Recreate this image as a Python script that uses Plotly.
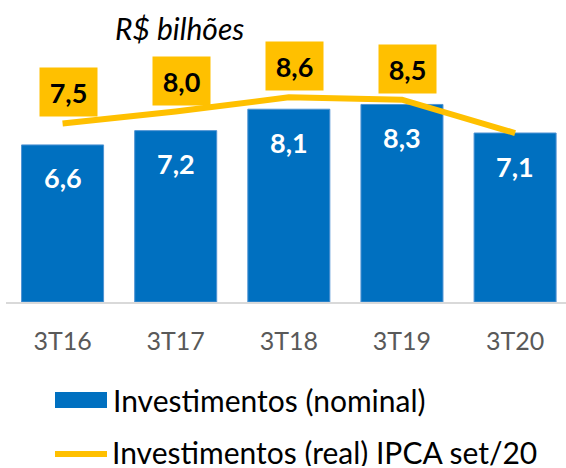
import plotly.graph_objects as go

categories = ["3T16", "3T17", "3T18", "3T19", "3T20"]
nominal = [6.6, 7.2, 8.1, 8.3, 7.1]
real = [7.5, 8.0, 8.6, 8.5, 7.1]
real_labels = ["7,5", "8,0", "8,6", "8,5", ""]
nominal_labels = ["6,6", "7,2", "8,1", "8,3", "7,1"]
unit_label = "R$ bilhões"
legend_names = ["Investimentos (nominal)", "Investimentos (real) IPCA set/20"]

BLUE = "#0070C0"
GOLD = "#FFC000"
FONT = "Lato"

W, H = 566, 468
ML, MR, MT, MB = 6, 0, 14, 166
PW, PH = W - ML - MR, H - MT - MB

def px(x):
    return (x - ML) / PW

def py(y):
    return (H - MB - y) / PH

fig = go.Figure()
fig.add_trace(go.Bar(
    x=categories, y=nominal, width=0.725,
    marker=dict(color=BLUE, line=dict(color="#4F93D3", width=1)),
    showlegend=False, hoverinfo="skip",
))
fig.add_trace(go.Scatter(
    x=categories, y=real, mode="lines",
    line=dict(color=GOLD, width=6),
    showlegend=False, hoverinfo="skip",
))

ann = []
for c, v, t in zip(categories, nominal, nominal_labels):
    ann.append(dict(x=c, y=v, text=f"<b>{t}</b>", showarrow=False, yshift=-33,
                    font=dict(family=FONT, size=27, color="white")))
for c, v, t in zip(categories, real, real_labels):
    if not t:
        continue
    ann.append(dict(x=c, y=v, text=f"<b>{t}</b>", showarrow=False, yshift=31, xshift=6,
                    bgcolor=GOLD, borderpad=6, width=45, height=36,
                    font=dict(family=FONT, size=27, color="black")))

ann.append(dict(xref="paper", yref="paper", x=px(113), y=py(28), xanchor="left", yanchor="middle",
                text=f"<i>{unit_label}</i>", showarrow=False,
                font=dict(family=FONT, size=30, color="black")))

# legend
shapes = [
    dict(type="rect", xref="paper", yref="paper", x0=px(55), x1=px(107), y0=py(408), y1=py(392),
         fillcolor=BLUE, line=dict(width=0)),
    dict(type="line", xref="paper", yref="paper", x0=px(55), x1=px(107), y0=py(454), y1=py(454),
         line=dict(color=GOLD, width=6)),
]
ann.append(dict(xref="paper", yref="paper", x=px(111), y=py(400), xanchor="left", yanchor="middle",
                text=legend_names[0], showarrow=False,
                font=dict(family=FONT, size=30, color="black")))
ann.append(dict(xref="paper", yref="paper", x=px(111), y=py(452), xanchor="left", yanchor="middle",
                text=legend_names[1], showarrow=False, height=28, borderpad=0,
                font=dict(family=FONT, size=30, color="black")))

fig.update_layout(
    width=W, height=H,
    margin=dict(l=ML, r=MR, t=MT, b=MB, pad=0),
    plot_bgcolor="white", paper_bgcolor="white",
    showlegend=False,
    annotations=ann, shapes=shapes,
    xaxis=dict(range=[-0.5, 4.45], showline=True, linecolor="#D9D9D9", linewidth=2,
               ticks="", ticklabelstandoff=16,
               tickfont=dict(family=FONT, size=25, color="#595959"), showgrid=False),
    yaxis=dict(range=[0, 12.1], visible=False, showgrid=False, zeroline=False),
)

fig.write_html("out.html", config={"displayModeBar": False},
               post_script="document.body.style.margin='0px';")
